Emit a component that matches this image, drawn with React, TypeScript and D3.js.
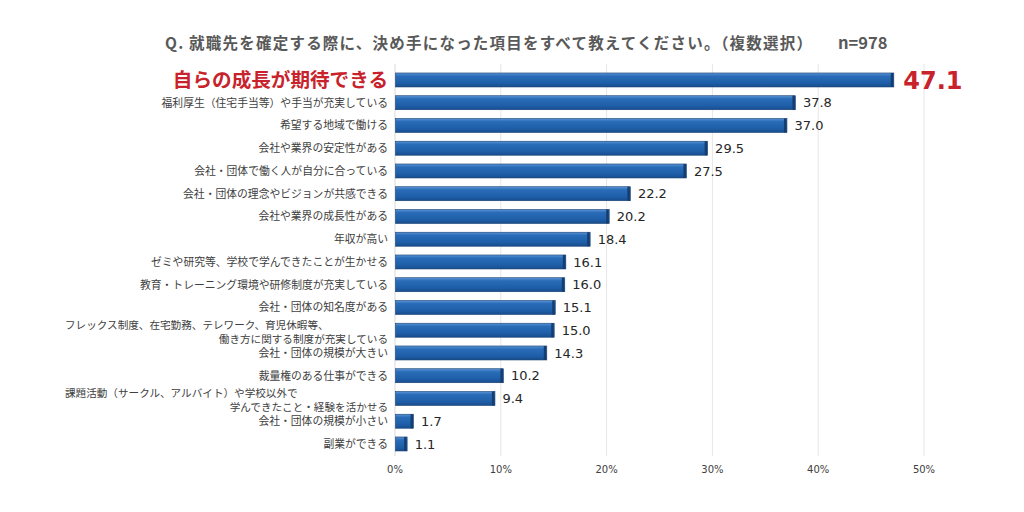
import React from "react";
import * as d3 from "d3";

const categories: string[] = [
  "自らの成長が期待できる",
  "福利厚生（住宅手当等）や手当が充実している",
  "希望する地域で働ける",
  "会社や業界の安定性がある",
  "会社・団体で働く人が自分に合っている",
  "会社・団体の理念やビジョンが共感できる",
  "会社や業界の成長性がある",
  "年収が高い",
  "ゼミや研究等、学校で学んできたことが生かせる",
  "教育・トレーニング環境や研修制度が充実している",
  "会社・団体の知名度がある",
  "フレックス制度、在宅勤務、テレワーク、育児休暇等、\n働き方に関する制度が充実している",
  "会社・団体の規模が大きい",
  "裁量権のある仕事ができる",
  "課題活動（サークル、アルバイト）や学校以外で\n学んできたこと・経験を活かせる",
  "会社・団体の規模が小さい",
  "副業ができる",
];
const values: number[] = [47.1, 37.8, 37.0, 29.5, 27.5, 22.2, 20.2, 18.4, 16.1, 16.0, 15.1, 15.0, 14.3, 10.2, 9.4, 1.7, 1.1];
const ticks: number[] = [0, 10, 20, 30, 40, 50];
const title = "Q. 就職先を確定する際に、決め手になった項目をすべて教えてください。（複数選択）";
const sampleLabel = "n=978";

const JP = "'Noto Sans CJK JP', 'Noto Sans', sans-serif";
const NUM = "'DejaVu Sans', Verdana, sans-serif";

export default function App() {
  const W = 1024, H = 512;
  const x = d3.scaleLinear().domain([0, 50]).range([395, 924]);
  const y = d3.scaleBand<string>().domain(categories).range([68.6, 68.6 + 17 * 22.75]).paddingInner(0.385).paddingOuter(0.1925);
  const bw = y.bandwidth();
  return (
    <svg width={W} height={H} style={{ position: "absolute", left: 0, top: 0, background: "#fff" }}>
      <defs>
        <linearGradient id="barg" x1="0" y1="0" x2="0" y2="1">
          <stop offset="0" stopColor="#5b95d6" />
          <stop offset="0.22" stopColor="#2a6cb8" />
          <stop offset="0.7" stopColor="#1f5fa9" />
          <stop offset="1" stopColor="#174d8e" />
        </linearGradient>
      </defs>
      <rect x={0} y={0} width={W} height={H} fill="#fff" />
      <text x={165} y={49} fontFamily={JP} fontWeight="bold" fontSize={15.5} fill="#595959" textLength={647} lengthAdjust="spacing">{title}</text>
      <text x={838} y={49} fontFamily={JP} fontWeight="bold" fontSize={16.5} fill="#595959">{sampleLabel}</text>
      {ticks.map((t) => (
        <g key={t}>
          {t > 0 && <line x1={x(t)} x2={x(t)} y1={64} y2={456} stroke="#e6e6e6" strokeWidth={1} />}
          <text x={x(t)} y={473} textAnchor="middle" fontFamily={NUM} fontSize={10} fill="#404040">{t}%</text>
        </g>
      ))}
      <line x1={x(0)} x2={x(0)} y1={64} y2={456} stroke="#d9d9d9" strokeWidth={1} />
      {categories.map((c, i) => {
        const yc = (y(c) as number) + bw / 2;
        const v = values[i];
        const lines = c.split("\n");
        const first = i === 0;
        return (
          <g key={c}>
            <rect x={x(0) + 0.5} y={y(c)} width={x(v) - x(0)} height={bw} fill="url(#barg)" stroke="#163f72" strokeWidth={0.6} />
            <rect x={x(v) - 2.5} y={y(c)} width={2.5} height={bw} fill="#153e70" />
            {lines.length === 1 ? (
              <text x={388} y={yc} dy="0.36em" textAnchor="end" fontFamily={JP} fontSize={first ? 19.6 : 10.8} fontWeight={first ? "bold" : "normal"} fill={first ? "#c8232c" : "#404040"}>{c}</text>
            ) : (
              <g>
                <text x={65} y={yc - 5} dy="0.36em" textAnchor="start" fontFamily={JP} fontSize={10.6} fill="#404040">{lines[0]}</text>
                <text x={388} y={yc + 8.5} dy="0.36em" textAnchor="end" fontFamily={JP} fontSize={10.6} fill="#404040">{lines[1]}</text>
              </g>
            )}
            <text x={x(v) + (first ? 10 : 8)} y={yc} dy="0.36em" fontFamily={NUM} fontSize={first ? 24 : 13} fontWeight={first ? "bold" : "normal"} fill={first ? "#c8232c" : "#262626"}>{v.toFixed(1)}</text>
          </g>
        );
      })}
    </svg>
  );
}
